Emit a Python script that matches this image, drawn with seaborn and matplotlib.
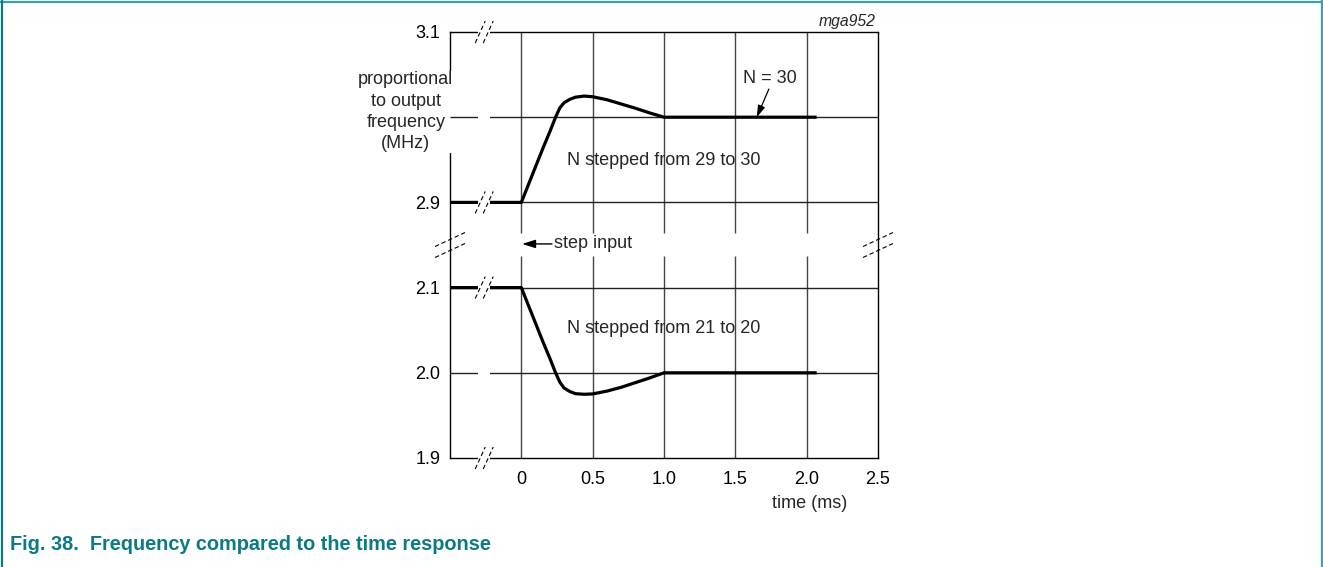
import matplotlib
matplotlib.use("Agg")
import matplotlib.pyplot as plt
import matplotlib.transforms as mtransforms
from matplotlib.lines import Line2D
import numpy as np
import seaborn as sns

# time axis (ms) and the two frequency responses (MHz)
time_ms = [-0.5, 0.0, 0.05, 0.1, 0.15, 0.2, 0.24, 0.27, 0.3, 0.34, 0.38, 0.44,
           0.5, 0.6, 0.7, 0.8, 0.9, 1.0, 1.5, 2.07]
freq_29_30 = [2.9, 2.9, 2.921, 2.942, 2.963, 2.983, 3.0, 3.011, 3.017, 3.021,
              3.0235, 3.0248, 3.024, 3.0205, 3.0155, 3.0105, 3.005, 3.0, 3.0, 3.0]
freq_21_20 = [2.1, 2.1, 2.079, 2.058, 2.037, 2.017, 2.0, 1.989, 1.982, 1.978,
              1.9755, 1.9748, 1.9752, 1.9785, 1.983, 1.9885, 1.994, 2.0, 2.0, 2.0]

x_ticks = [0, 0.5, 1.0, 1.5, 2.0, 2.5]
x_labels = ["0", "0.5", "1.0", "1.5", "2.0", "2.5"]
y_ticks = [1.9, 2.0, 2.1, 2.9, 3.0, 3.1]
y_labels = ["1.9", "2.0", "2.1", "2.9", "", "3.1"]  # 3.0 sits under the axis title

sns.set_style("white")
plt.rcParams["font.family"] = ["Liberation Sans", "DejaVu Sans"]
FS = 13
TEAL = "#0b7a84"


# broken y axis: 2.1 .. 2.9 squeezed into one grid step
def fwd(y):
    y = np.asarray(y, dtype=float)
    return np.where(y >= 2.9, (y - 2.9) * 10 + 3,
                    np.where(y <= 2.1, (y - 1.9) * 10, 2 + (y - 2.1) * 1.25))


def inv(u):
    u = np.asarray(u, dtype=float)
    return np.where(u >= 3, 2.9 + (u - 3) / 10,
                    np.where(u <= 2, 1.9 + u / 10, 2.1 + (u - 2) / 1.25))


fig = plt.figure(figsize=(13.23, 5.67), dpi=100)
ax = fig.add_axes([450 / 1323, 1 - 458 / 567, 428 / 1323, 426 / 567])
ax.set_yscale("function", functions=(fwd, inv))

# grid
ax.vlines(x_ticks[:-1], 1.9, 2.398, color="#444444", lw=1.0, zorder=1)
ax.vlines(x_ticks[:-1], 2.612, 3.1, color="#444444", lw=1.0, zorder=1)
ax.hlines([2.0, 3.0, 2.1, 2.9], -0.5, 2.5, color="#222222", lw=1.0, zorder=2.8)

sns.lineplot(x=time_ms, y=freq_29_30, color="black", linewidth=2.3, ax=ax,
             zorder=2.9, solid_capstyle="butt")
sns.lineplot(x=time_ms, y=freq_21_20, color="black", linewidth=2.3, ax=ax,
             zorder=2.9, solid_capstyle="butt")

ax.set_xlim(-0.5, 2.5)
ax.set_ylim(1.9, 3.1)
ax.set_xticks(x_ticks, x_labels)
ax.set_yticks(y_ticks, y_labels)
ax.minorticks_off()
ax.tick_params(axis="x", length=0, pad=9, labelsize=FS, colors="black")
ax.tick_params(axis="y", length=0, pad=7, labelsize=FS, colors="black")
for s in ax.spines.values():
    s.set_color("black")
    s.set_linewidth(1.0)


def brk(x, y, dx, dy, sep, vert=False, w=0):
    tr = mtransforms.ScaledTranslation(x, y, ax.transData)
    if w:
        ax.plot([-w, w], [0, 0], color="white", lw=4.5, transform=tr,
                clip_on=False, zorder=3, solid_capstyle="butt")
    if sep is None:
        return
    for s in (-sep / 2, sep / 2):
        ox, oy = (0, s) if vert else (s, 0)
        ax.plot([ox - dx, ox + dx], [oy - dy, oy + dy], color="black", lw=0.8,
                ls=(0, (4, 2.5)), transform=tr, clip_on=False, zorder=4)


for yy in (3.1, 2.9, 2.1, 1.9):
    brk(-0.26, yy, 5, 11, 8, w=6)
for yy in (3.0, 2.0):
    brk(-0.26, yy, 0, 0, None, w=6)
brk(-0.5, 2.5, 15, 7, 11, vert=True)
brk(2.5, 2.5, 15, 7, 11, vert=True)

# annotations
ax.text(-0.809, 3.0065, "proportional\nto output\nfrequency\n(MHz)", ha="center",
        va="center", fontsize=FS, linespacing=1.32, zorder=2.7,
        bbox=dict(facecolor="white", edgecolor="none", pad=0.5))
ax.text(1.74, 3.046, "N = 30", ha="center", va="center", fontsize=FS)
ax.annotate("", xy=(1.65, 3.0), xytext=(1.735, 3.033),
            arrowprops=dict(arrowstyle="-|>,head_length=0.7,head_width=0.22",
                            color="black", lw=0.9, shrinkA=0, shrinkB=0))
ax.text(1.0, 2.949, "N stepped from 29 to 30", ha="center", va="center", fontsize=FS)
ax.text(1.0, 2.052, "N stepped from 21 to 20", ha="center", va="center", fontsize=FS)
ax.text(0.232, 2.51, "step input", ha="left", va="center", fontsize=FS)
ax.annotate("", xy=(0.005, 2.51), xytext=(0.215, 2.51),
            arrowprops=dict(arrowstyle="-|>,head_length=0.8,head_width=0.25",
                            color="black", lw=1.0, shrinkA=0, shrinkB=0))
ax.text(0.995, 1.024, "mga952", transform=ax.transAxes, ha="right", va="center",
        fontsize=11.3, style="italic")
ax.text(0.84, -0.106, "time (ms)", transform=ax.transAxes, ha="center",
        va="center", fontsize=FS)

# page frame and caption
fc = "#3f9fa6"
fig.add_artist(Line2D([0, 1], [1 - 1.5 / 567] * 2, transform=fig.transFigure, color=fc, lw=1.6))
fig.add_artist(Line2D([2 / 1323] * 2, [0, 1], transform=fig.transFigure, color=TEAL, lw=1.6))
fig.add_artist(Line2D([1 - 1.5 / 1323] * 2, [0, 1], transform=fig.transFigure, color=fc, lw=1.6))
fig.text(10 / 1323, 1 - 545 / 567, "Fig. 38.  Frequency compared to the time response",
         ha="left", va="center", fontsize=14.3, fontweight="bold", color=TEAL)

fig.savefig("out.png", dpi=100)
